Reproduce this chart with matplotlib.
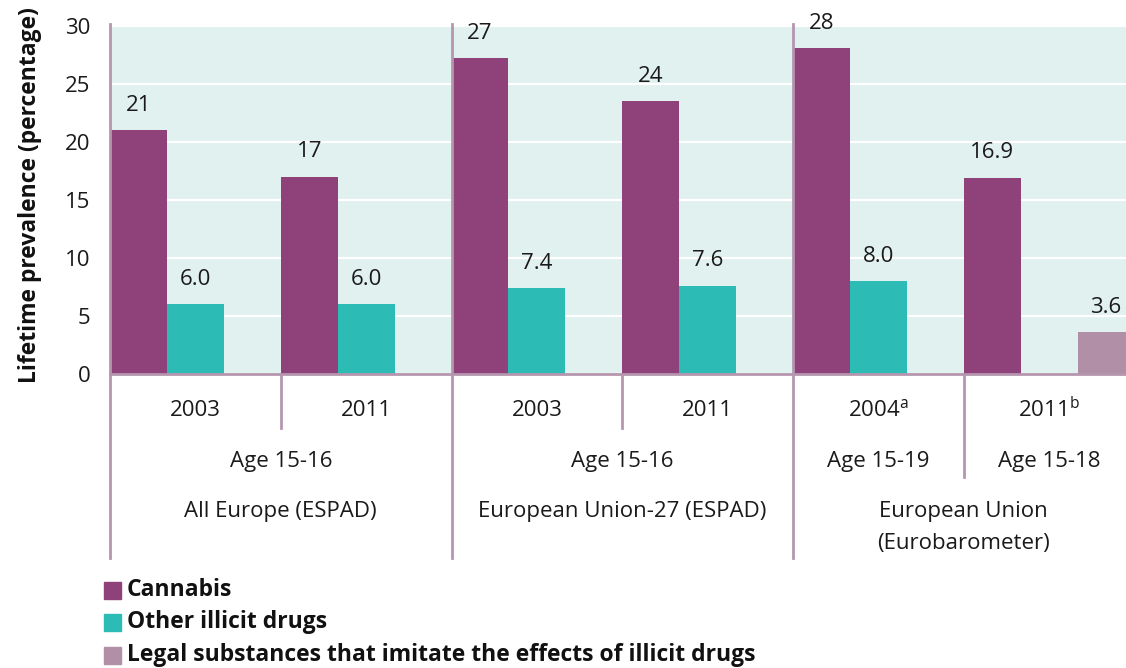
import matplotlib
matplotlib.use('Agg')
import matplotlib.pyplot as plt
from matplotlib.patches import Rectangle

plt.rcParams['font.family'] = ['Open Sans', 'DejaVu Sans']
plt.rcParams['mathtext.fontset'] = 'custom'
plt.rcParams['mathtext.rm'] = 'Open Sans'

# data
years = ['2003', '2011', '2003', '2011', r'2004$^{\mathrm{a}}$', r'2011$^{\mathrm{b}}$']
ages = ['Age 15-16', 'Age 15-16', 'Age 15-19', 'Age 15-18']
groups = ['All Europe (ESPAD)', 'European Union-27 (ESPAD)', 'European Union\n(Eurobarometer)']
cannabis = [21, 17, 27.2, 23.5, 28.1, 16.9]
cannabis_lbl = ['21', '17', '27', '24', '28', '16.9']
other = [6.0, 6.0, 7.4, 7.6, 8.0, None]
legal = [None, None, None, None, None, 3.6]
series_names = ['Cannabis', 'Other illicit drugs',
                'Legal substances that imitate the effects of illicit drugs']

c_cann = '#8f427a'
c_other = '#2dbbb5'
c_legal = '#b08fa7'
c_line = '#b596ae'
bg = '#e0f1ef'
tc = '#1a1a1a'
fs = 16

fig = plt.figure(figsize=(11.26, 6.68), dpi=100)
ax = fig.add_axes([110 / 1126, 294 / 668, 1024.5 / 1126, 348 / 668])
ax.set_facecolor(bg)
ax.set_xlim(0, 6)
ax.set_ylim(0, 30)

w = 1 / 3
for series, lbls, col, slot in [(cannabis, cannabis_lbl, c_cann, 0),
                                (other, None, c_other, 1),
                                (legal, None, c_legal, 2)]:
    for i, v in enumerate(series):
        if v is None:
            continue
        x = i + slot * w
        ax.bar(x, v, width=w, align='edge', color=col, zorder=3)
        txt = lbls[i] if lbls else f'{v:.1f}'
        ax.annotate(txt, (x + w / 2, v), xytext=(0, 25),
                    textcoords='offset pixels', ha='center', va='center',
                    fontsize=fs, color=tc)

ax.set_yticks(range(0, 31, 5))
ax.set_xticks([])
ax.tick_params(axis='y', length=0, pad=14, labelsize=fs, labelcolor=tc)
ax.yaxis.grid(True, color='white', lw=1.6)
ax.set_axisbelow(True)
for s in ax.spines.values():
    s.set_visible(False)
ax.axhline(0, color=c_line, lw=2, zorder=4, clip_on=False)

tr = ax.get_xaxis_transform()
# group dividers
for gx in [0, 2, 4]:
    ax.plot([gx, gx], [1.006, -0.53], color=c_line, lw=2, transform=tr, clip_on=False, zorder=5)
# sub dividers
for sx, ybot in [(1, -0.155), (3, -0.155), (5, -0.295)]:
    ax.plot([sx, sx], [0, ybot], color=c_line, lw=2, transform=tr, clip_on=False)

def fy(py):
    return (374 - py) / 348

def lbl(x, py, s):
    ax.text(x, fy(py), s, transform=tr, ha='center', va='center', fontsize=fs, color=tc)

for i, yr in enumerate(years):
    lbl(i + 0.5, 410, yr)
lbl(1, 461, ages[0])
lbl(3, 461, ages[1])
lbl(4.5, 461, ages[2])
lbl(5.5, 461, ages[3])
lbl(1, 511, groups[0])
lbl(3, 511, groups[1])
g3a, g3b = groups[2].split('\n')
lbl(5, 511, g3a)
lbl(5, 543, g3b)

fig.text(30 / 1126, 1 - 195 / 668, 'Lifetime prevalence (percentage)', rotation=90,
         ha='center', va='center', fontsize=16.5, fontweight='bold', color='#111111')

# legend
for k, (name, col) in enumerate(zip(series_names, [c_cann, c_other, c_legal])):
    yc = 590 + k * 32.5
    fig.patches.append(Rectangle((104 / 1126, 1 - (yc + 8.5) / 668), 17 / 1126, 17 / 668,
                                 transform=fig.transFigure, color=col, figure=fig))
    fig.text(127 / 1126, 1 - yc / 668, name, ha='left', va='center',
             fontsize=16.5, fontweight='bold', color='#111111')

fig.savefig('out.png', dpi=100)
